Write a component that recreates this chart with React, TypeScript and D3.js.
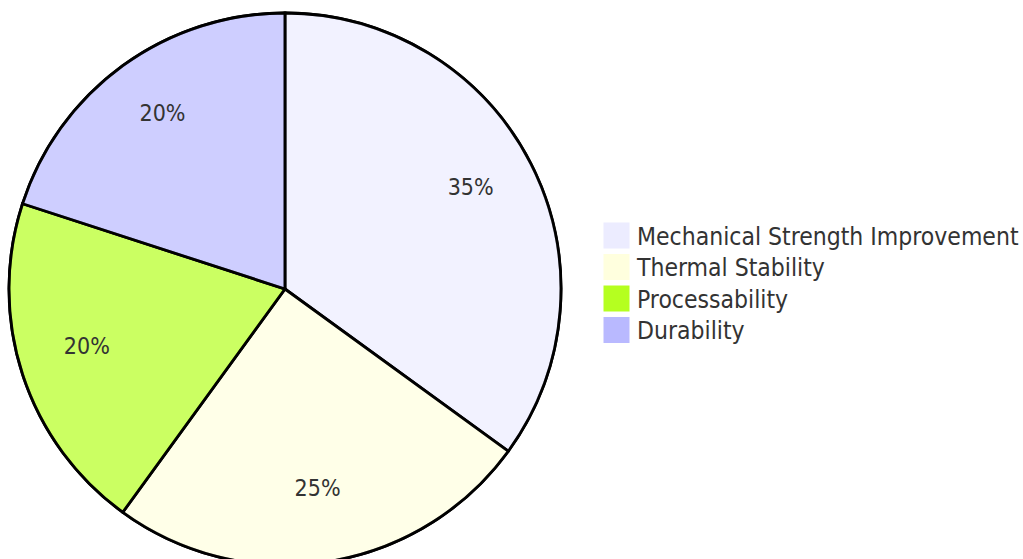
import React from "react";
import { arc, pie } from "d3";

const labels = [
  "Mechanical Strength Improvement",
  "Thermal Stability",
  "Processability",
  "Durability",
];
const values = [35, 25, 20, 20];
const colors = ["#ECECFF", "#ffffde", "#b5ff20", "#b9b9ff"];

const width = 1023;
const height = 559;
const cx = 285;
const cy = 289;
const radius = 276;
const font = "'trebuchet ms', 'DejaVu Sans Condensed', verdana, arial, sans-serif";

const App = () => {
  const pieGenerator = pie<number>().value((d) => d).sort(null);
  const slices = pieGenerator(values);
  const sliceArc = arc<any>().innerRadius(0).outerRadius(radius);
  const labelArc = arc<any>().innerRadius(radius * 0.755).outerRadius(radius * 0.755);
  const total = values.reduce((a, b) => a + b, 0);

  return (
    <svg
      width={width}
      height={height}
      style={{ position: "absolute", left: 0, top: 0, background: "#fff" }}
    >
      <g transform={`translate(${cx}, ${cy})`}>
        <circle r={radius} fill="none" stroke="black" strokeWidth={2.8} />
        {slices.map((d, i) => (
          <path
            key={i}
            d={sliceArc(d) as string}
            fill={colors[i]}
            fillOpacity={0.7}
            stroke="black"
            strokeWidth={2.8}
          />
        ))}
        {slices.map((d, i) => {
          const [x, y] = labelArc.centroid(d);
          return (
            <text
              key={i}
              x={x}
              y={y + 1}
              textAnchor="middle"
              fontFamily={font}
              fontSize={23}
              fill="#333"
            >
              {`${Math.round((values[i] / total) * 100)}%`}
            </text>
          );
        })}
      </g>
      <g transform="translate(604, 223)">
        {labels.map((l, i) => (
          <g key={i} transform={`translate(0, ${i * 31.5})`}>
            <rect width={25} height={25} fill={colors[i]} stroke={colors[i]} />
            <text
              x={33}
              y={13}
              dominantBaseline="central"
              fontFamily={font}
              fontSize={24.5}
              fill="#333"
            >
              {l}
            </text>
          </g>
        ))}
      </g>
    </svg>
  );
};

export default App;
